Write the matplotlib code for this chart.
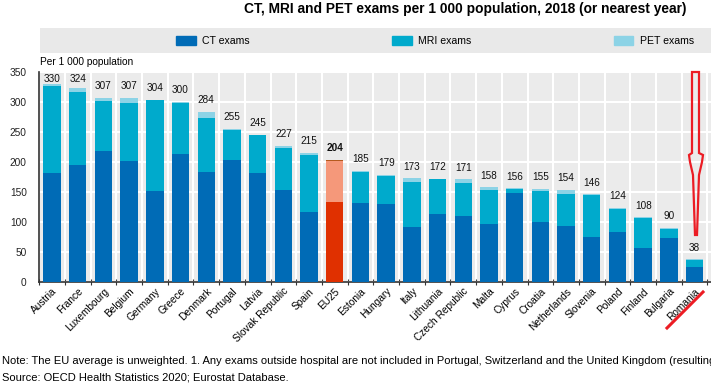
import matplotlib
matplotlib.use('Agg')
import matplotlib.pyplot as plt
import numpy as np
from matplotlib.patches import Rectangle, Polygon
from matplotlib.lines import Line2D

plt.rcParams['font.family'] = ['Liberation Sans', 'DejaVu Sans']

countries = ["Austria", "France", "Luxembourg", "Belgium", "Germany", "Greece", "Denmark",
             "Portugal", "Latvia", "Slovak Republic", "Spain", "EU25", "Estonia", "Hungary",
             "Italy", "Lithuania", "Czech Republic", "Malta", "Cyprus", "Croatia", "Netherlands",
             "Slovenia", "Poland", "Finland", "Bulgaria", "Romania"]
ct = [182, 195, 218, 201, 152, 213, 184, 204, 181, 154, 117, 134, 132, 130, 92, 113, 110,
      96, 149, 100, 94, 75, 84, 56, 74, 25]
mri = [144, 121, 84, 97, 151, 85, 89, 49, 64, 70, 94, 67, 51, 47, 75, 58, 55,
       57, 6, 51, 53, 70, 38, 50, 14, 12]
pet = [4, 8, 5, 9, 1, 2, 11, 2, 0, 3, 4, 3, 2, 2, 6, 1, 6, 5, 1, 4, 7, 1, 2, 2, 2, 1]
totals = [330, 324, 307, 307, 304, 300, 284, 255, 245, 227, 215, 204, 185, 179, 173, 172,
          171, 158, 156, 155, 154, 146, 124, 108, 90, 38]
series_names = ["CT exams", "MRI exams", "PET exams"]
yticks = [0, 50, 100, 150, 200, 250, 300, 350]

title = "CT, MRI and PET exams per 1 000 population, 2018 (or nearest year)"
note = ("Note: The EU average is unweighted. 1. Any exams outside hospital are not included in "
        "Portugal, Switzerland and the United Kingdom (resulting in an under-estimation).")
source = "Source: OECD Health Statistics 2020; Eurostat Database."

c_ct, c_mri, c_pet = '#006BB6', '#00AACC', '#8CD3E6'
e_ct, e_mri, e_pet = '#E03000', '#F5987A', '#B55A1E'

W, H = 711, 390
fig = plt.figure(figsize=(W / 100, H / 100), dpi=100)

def fx(px):
    return px / W

def fy(py):
    return 1 - py / H

ax = fig.add_axes([fx(39.2), fy(282), 1 - fx(39.2), (282 - 72) / H])
x = np.arange(len(countries))
ct_a, mri_a, pet_a = np.array(ct), np.array(mri), np.array(pet)
is_eu = np.array([c == "EU25" for c in countries])
col_ct = [e_ct if e else c_ct for e in is_eu]
col_mri = [e_mri if e else c_mri for e in is_eu]
col_pet = [e_pet if e else c_pet for e in is_eu]
bw = 0.68
ax.bar(x, ct_a, bw, color=col_ct, zorder=3)
ax.bar(x, mri_a, bw, bottom=ct_a, color=col_mri, zorder=3)
ax.bar(x, pet_a, bw, bottom=ct_a + mri_a, color=col_pet, zorder=3)

ax.set_xlim(-0.5, 25.64)
ax.set_ylim(0, 350)
ax.set_facecolor('#EBEBEB')
ax.set_yticks(yticks)
ax.tick_params(axis='y', length=0, pad=9, labelsize=7.3, colors='#222222')
ax.set_xticks(x)
ax.set_xticklabels(countries, rotation=45, ha='right', rotation_mode='anchor', fontsize=7.3)
ax.tick_params(axis='x', which='major', length=0, pad=3)
ax.set_xticks(np.arange(-0.5, 26, 1), minor=True)
ax.tick_params(axis='x', which='minor', length=4, direction='inout', color='#333333', width=0.8)
ax.grid(axis='y', color='white', lw=1.5, zorder=0)
ax.grid(axis='x', which='minor', color='white', lw=1.5, zorder=0)
ax.grid(axis='x', which='major', visible=False)
for s in ['top', 'right']:
    ax.spines[s].set_visible(False)
ax.spines['left'].set_color('#333333')
ax.spines['bottom'].set_color('#333333')
ax.spines['left'].set_linewidth(1.2)
ax.spines['bottom'].set_linewidth(1.2)

lab_y = np.minimum(np.array(totals) + 11, 330)
for i, t in enumerate(totals):
    ax.text(i, lab_y[i], str(t), ha='center', va='bottom', fontsize=7.2,
            fontweight='bold' if is_eu[i] else 'normal', color='#111111', zorder=5)

# legend
fig.patches.append(Rectangle((fx(40), fy(53)), 1 - fx(40), 25 / H, transform=fig.transFigure,
                             facecolor='#E9E9E9', edgecolor='none', zorder=0))
handles = [Rectangle((0, 0), 1, 1, color=c) for c in (c_ct, c_mri, c_pet)]
fig.legend(handles, series_names, loc='center', bbox_to_anchor=(fx(435), fy(41)), ncol=3,
           frameon=False, fontsize=7.6, handlelength=1.85, handleheight=1.0,
           handletextpad=0.6, columnspacing=13.5)

fig.text(fx(686), fy(9), title, ha='right', va='center', fontsize=9.9, fontweight='bold')
fig.text(fx(40), fy(62), "Per 1 000 population", ha='left', va='center', fontsize=7.3)
fig.text(fx(2), fy(361), note, ha='left', va='center', fontsize=8.0)
fig.text(fx(2), fy(378), source, ha='left', va='center', fontsize=8.0)

# red hand-drawn annotation
arrow_px = [(692, 72), (699, 72), (699, 153), (703, 155), (702, 162), (699, 175), (698, 205),
            (697, 235), (695, 235), (694, 205), (693, 175), (690, 162), (689, 155), (692, 153)]
fig.patches.append(Polygon([(fx(a), fy(b)) for a, b in arrow_px], closed=True, fill=False,
                           edgecolor='#EC1C24', lw=1.6, transform=fig.transFigure, zorder=10))
fig.lines.append(Line2D([fx(667), fx(703)], [fy(328), fy(292)], color='#EC1C24', lw=2.2,
                        transform=fig.transFigure, zorder=10))

fig.savefig('out.png', dpi=100)
